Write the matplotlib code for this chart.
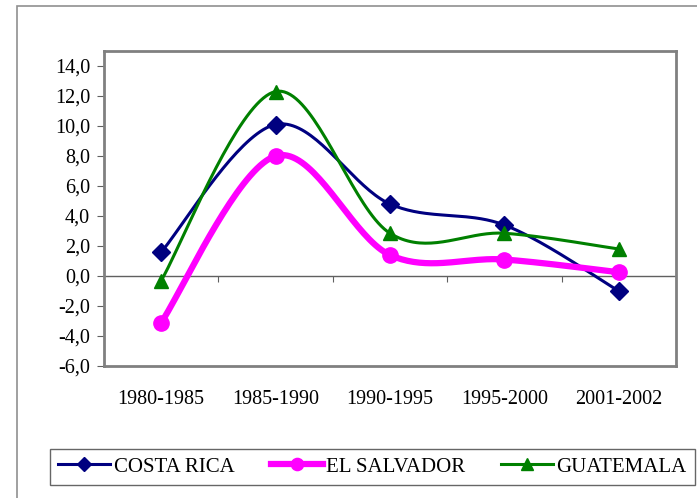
import matplotlib.pyplot as plt
import numpy as np
from matplotlib.patches import Rectangle
from matplotlib.ticker import FuncFormatter

periodos = ['1980-1985', '1985-1990', '1990-1995', '1995-2000', '2001-2002']
costa_rica = [1.6, 10.1, 4.8, 3.4, -1.0]
el_salvador = [-3.1, 8.0, 1.4, 1.1, 0.25]
guatemala = [-0.3, 12.3, 2.85, 2.85, 1.8]

plt.rcParams['font.family'] = 'Liberation Serif'


def suave(y, n=40):
    # curva tipo Excel (Bezier con tangentes Catmull-Rom)
    p = np.column_stack([np.arange(len(y), dtype=float), np.array(y, dtype=float)])
    pts = [p[0]] + list(p) + [p[-1]]
    out = []
    t = np.linspace(0, 1, n)[:, None]
    for i in range(1, len(pts) - 2):
        p0, p1, p2, p3 = pts[i - 1], pts[i], pts[i + 1], pts[i + 2]
        c1 = p1 + (p2 - p0) / 6
        c2 = p2 - (p3 - p1) / 6
        seg = (1 - t) ** 3 * p1 + 3 * (1 - t) ** 2 * t * c1 + 3 * (1 - t) * t ** 2 * c2 + t ** 3 * p2
        out.append(seg if i == 1 else seg[1:])
    out = np.vstack(out)
    return out[:, 0], out[:, 1]


fig = plt.figure(figsize=(6.97, 4.98), dpi=100)
fig.patches.append(Rectangle((17 / 697, -0.1), 1, 1.1 - 6 / 498, transform=fig.transFigure,
                             fill=False, edgecolor='#909090', linewidth=1.2))
ax = fig.add_axes([104 / 697, 132 / 498, 572 / 697, 315 / 498])

series = [
    ('COSTA RICA', costa_rica, '#000080', 2.2, 'D', 9),
    ('EL SALVADOR', el_salvador, '#FF00FF', 4.5, 'o', 11),
    ('GUATEMALA', guatemala, '#008000', 2.2, '^', 10),
]
x = np.arange(len(periodos))
for nombre, vals, col, lw, mk, ms in series:
    xs, ys = suave(vals)
    ax.plot(xs, ys, color=col, lw=lw, zorder=3)
    ax.plot(x, vals, ls='none', marker=mk, ms=ms, color=col, zorder=4)
    ax.plot([], [], color=col, lw=lw, marker=mk, ms=ms * 0.8, label=nombre)

ax.set_xlim(-0.5, len(periodos) - 0.5)
ax.set_ylim(-6, 15)
ax.set_yticks(np.arange(-6, 15, 2))
ax.yaxis.set_major_formatter(FuncFormatter(lambda v, p: f'{v:.1f}'.replace('.', ',')))
ax.tick_params(axis='y', direction='out', length=5, width=0.8, color='#606060', labelsize=14.5, pad=5)
ax.set_xticks(x)
ax.set_xticklabels(periodos)
ax.tick_params(axis='x', length=0, labelsize=14.5, pad=17)

for s in ax.spines.values():
    s.set_color('#808080')
    s.set_linewidth(2)

ax.axhline(0, color='#606060', lw=1, zorder=2)
sec = ax.secondary_xaxis(6 / 21)
sec.set_xticks(x[:-1] + 0.5)
sec.set_xticklabels([])
sec.tick_params(direction='out', length=4, width=0.8, color='#606060')
sec.spines['bottom'].set_visible(False)

leg = fig.legend(loc='lower left', bbox_to_anchor=(50 / 697, 13 / 498, 645 / 697, 38 / 498),
                 mode='expand', ncol=3, fontsize=15, handlelength=2.5, handletextpad=0.15,
                 frameon=True, fancybox=False, borderaxespad=0, borderpad=0.4)
leg.get_frame().set_edgecolor('#404040')
leg.get_frame().set_linewidth(1)

fig.savefig('out.png', dpi=100)
